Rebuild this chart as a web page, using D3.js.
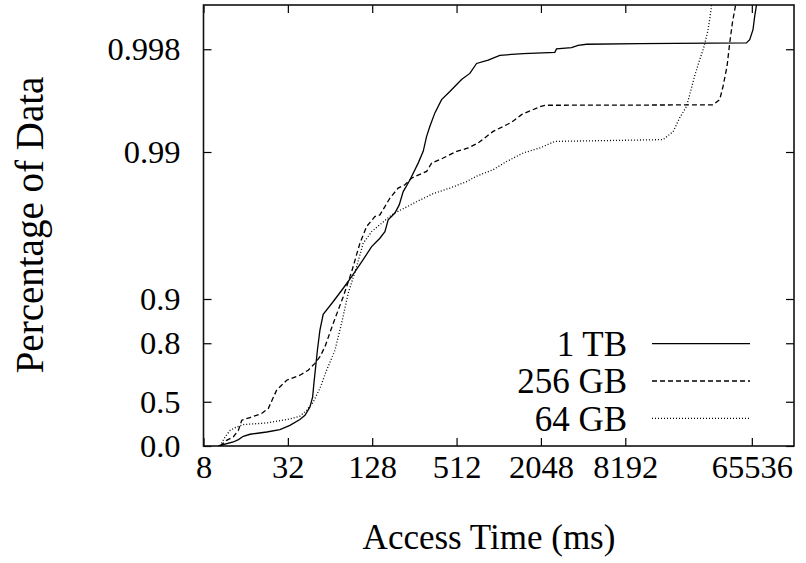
<!DOCTYPE html>
<html>
<head>
<meta charset="utf-8">
<script src="https://cdn.jsdelivr.net/npm/d3@7"></script>
<style>
  html, body { margin: 0; padding: 0; background: #fff; }
  svg { display: block; }
  text { font-family: "Liberation Serif", "DejaVu Serif", serif; fill: #000; }
</style>
</head>
<body>
<script>
// Access-time CDFs for three data-set sizes
const seriesLabels = ["1 TB", "256 GB", "64 GB"];

const tb1Ms = [10.2, 13.05, 14.2, 15.4, 17.2, 22.6, 28.1, 33.1, 39.0, 42.4, 46.0, 48.1, 49.1, 52.0, 54.2,
  57.2, 67.5, 79.5, 91.3, 107.6, 126.8, 145.2, 157.7, 166.4, 185.8, 199.5, 213, 237.7, 272.4, 295.9,
  312.9, 330.3, 358.5, 400.3, 458.6, 555.6, 636.9, 711.2, 860.5, 1042, 1529, 2574, 2646, 3386, 3774,
  4335, 10406, 59980, 63300, 66830, 68730, 70660, 73470];
const tb1Frac = [0, 0.061, 0.0955, 0.141, 0.168, 0.197, 0.227, 0.277, 0.339, 0.382, 0.458, 0.537, 0.625, 0.777, 0.837,
  0.873, 0.896, 0.9155, 0.9295, 0.944, 0.956, 0.9614, 0.9652, 0.9711, 0.974, 0.9771, 0.9814, 0.9845, 0.9881, 0.9901,
  0.99217, 0.99331, 0.99458, 0.9956, 0.99612, 0.99679, 0.99708, 0.9975, 0.99763, 0.9978, 0.99786, 0.9979, 0.99801, 0.99805, 0.99812,
  0.99815, 0.99817, 0.99819, 0.99828, 0.99853, 0.99881, 0.99899, 0.9992];

const gb256Ms = [10.5, 11.7, 13.05, 14.2, 15.0, 17.2, 20.8, 23.2, 26.6, 31.4, 39.0, 44.7, 49.9, 54.2, 58.9,
  67.5, 79.5, 91.3, 104.6, 116.8, 133.7, 145.2, 157.7, 171.2, 196.2, 219.0, 244.6, 312.9, 339.7, 410.9,
  512, 619.5, 730.1, 933.9, 1263, 1489, 1617, 2011, 2183, 34670, 38670, 40860, 43610, 45580, 47640,
  50300, 52260];
const gb256Frac = [0, 0.0855, 0.132, 0.218, 0.332, 0.360, 0.399, 0.444, 0.583, 0.643, 0.670, 0.695, 0.726, 0.753, 0.789,
  0.854, 0.9035, 0.9348, 0.9583, 0.9679, 0.9725, 0.9732, 0.9765, 0.9794, 0.9824, 0.9833, 0.98496, 0.98644, 0.98811, 0.98901,
  0.99009, 0.99061, 0.99132, 0.99276, 0.99372, 0.99443, 0.99463, 0.99507, 0.99519, 0.99522, 0.9956, 0.99643, 0.99739, 0.99819, 0.99868,
  0.99901, 0.9992];

const gb64Ms = [10.5, 11.4, 12.4, 13.8, 15.4, 22.6, 31.4, 39.0, 43.6, 48.6, 54.2, 60.5, 69.4, 77.4, 86.3,
  99.1, 110.4, 126.8, 149.4, 180.8, 219.0, 272.4, 348.5, 458.6, 603.5, 711.2, 933.9, 1165, 1529, 2011,
  2574, 15245, 17970, 20060, 22380, 23630, 25660, 27850, 29740, 31770, 32810, 33750, 34900];
const gb64Frac = [0, 0.132, 0.218, 0.258, 0.285, 0.303, 0.339, 0.373, 0.429, 0.499, 0.594, 0.695, 0.777, 0.854, 0.9086,
  0.9398, 0.9583, 0.9652, 0.9695, 0.9737, 0.9760, 0.9785, 0.9808, 0.9824, 0.9841, 0.9854, 0.9868, 0.9884, 0.98984, 0.99061,
  0.99153, 0.99176, 0.99273, 0.99416, 0.99509, 0.99593, 0.99698, 0.99765, 0.99805, 0.99849, 0.99875, 0.99898, 0.9992];

const xTickValues = [8, 32, 128, 512, 2048, 8192, 65536];
const xTickLabels = ["8", "32", "128", "512", "2048", "8192", "65536"];
const yTickValues = [0.0, 0.5, 0.8, 0.9, 0.99, 0.998];
const yTickLabels = ["0.0", "0.5", "0.8", "0.9", "0.99", "0.998"];

const seriesDash = [null, "5,3", "1,2"];

const W = 806, H = 563;
const plot = { left: 203.5, right: 794, top: 5, bottom: 446 };
const tickFontPx = 32.5;
const labelFontPx = 35;

const svg = d3.select("body").append("svg").attr("width", W).attr("height", H);

// x: log base 2 of access time
const x = d3.scaleLog().base(2).domain([8, 131072]).range([plot.left, plot.right]);
// y: log of the remaining fraction (1 - p), so the tail near 1 is stretched
const yq = d3.scaleLog().domain([1, 0.001]).range([plot.bottom, plot.top]);
const y = p => yq(1 - p);

svg.append("defs").append("clipPath").attr("id", "plotClip")
  .append("rect")
  .attr("x", plot.left).attr("y", plot.top)
  .attr("width", plot.right - plot.left).attr("height", plot.bottom - plot.top);

function styleAxis(g) {
  g.select(".domain").remove();
  g.selectAll(".tick line").attr("stroke", "#000").attr("stroke-width", 1.2);
  g.selectAll(".tick text")
    .style("font-size", tickFontPx + "px")
    .attr("fill", "#000");
  g.attr("font-size", null).attr("font-family", null);
}

// bottom axis with labels, top mirror without
svg.append("g").attr("transform", `translate(0,${plot.bottom})`)
  .call(d3.axisBottom(x).tickValues(xTickValues).tickFormat((d, i) => xTickLabels[i])
    .tickSizeInner(-8).tickSizeOuter(0).tickPadding(9))
  .call(styleAxis);
svg.append("g").attr("transform", `translate(0,${plot.top})`)
  .call(d3.axisTop(x).tickValues(xTickValues).tickFormat(() => "")
    .tickSizeInner(-8).tickSizeOuter(0))
  .call(styleAxis);

// left axis with labels, right mirror without
const yTickQ = yTickValues.map(p => 1 - p);
svg.append("g").attr("transform", `translate(${plot.left},0)`)
  .call(d3.axisLeft(yq).tickValues(yTickQ).tickFormat((d, i) => yTickLabels[i])
    .tickSizeInner(-8).tickSizeOuter(0).tickPadding(23))
  .call(styleAxis);
svg.append("g").attr("transform", `translate(${plot.right},0)`)
  .call(d3.axisRight(yq).tickValues(yTickQ).tickFormat(() => "")
    .tickSizeInner(-8).tickSizeOuter(0))
  .call(styleAxis);

// plot frame
svg.append("rect")
  .attr("x", plot.left).attr("y", plot.top)
  .attr("width", plot.right - plot.left).attr("height", plot.bottom - plot.top)
  .attr("fill", "none").attr("stroke", "#111").attr("stroke-width", 1.6);

// curves
const series = [
  tb1Ms.map((v, i) => [v, tb1Frac[i]]),
  gb256Ms.map((v, i) => [v, gb256Frac[i]]),
  gb64Ms.map((v, i) => [v, gb64Frac[i]])
];
const line = d3.line().x(d => x(d[0])).y(d => y(d[1]));

svg.append("g").attr("clip-path", "url(#plotClip)")
  .selectAll("path").data(series).join("path")
  .attr("d", line)
  .attr("fill", "none")
  .attr("stroke", "#000")
  .attr("stroke-width", 1.3)
  .attr("stroke-dasharray", (d, i) => seriesDash[i]);

// legend
const legend = svg.append("g");
const legendRowY = [343.7, 381, 418.3];
seriesLabels.forEach((lab, i) => {
  legend.append("text")
    .attr("x", 627).attr("y", legendRowY[i]).attr("dy", "0.35em")
    .attr("text-anchor", "end").style("font-size", labelFontPx + "px")
    .text(lab);
  legend.append("line")
    .attr("x1", 652).attr("x2", 750)
    .attr("y1", legendRowY[i]).attr("y2", legendRowY[i])
    .attr("stroke", "#000").attr("stroke-width", 1.3)
    .attr("stroke-dasharray", seriesDash[i]);
});

// axis titles
svg.append("text")
  .attr("x", 489).attr("y", 549)
  .attr("text-anchor", "middle").style("font-size", labelFontPx + "px")
  .text("Access Time (ms)");
svg.append("text")
  .attr("transform", `translate(43,225) rotate(-90)`)
  .attr("text-anchor", "middle").style("font-size", "39px")
  .text("Percentage of Data");
</script>
</body>
</html>
